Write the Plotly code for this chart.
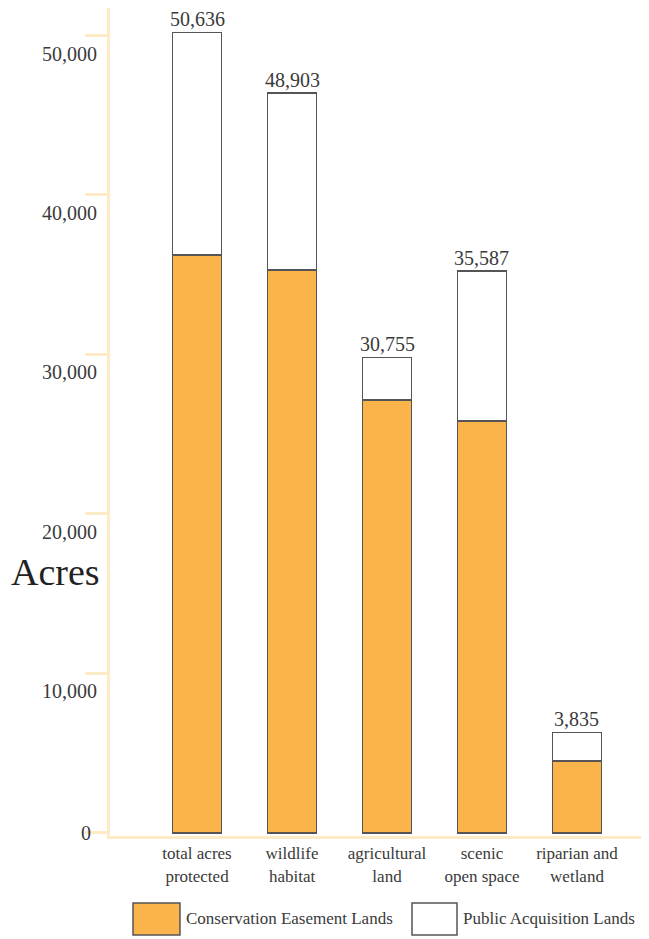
import plotly.graph_objects as go

categories = ["total acres<br>protected", "wildlife<br>habitat", "agricultural<br>land",
              "scenic<br>open space", "riparian and<br>wetland"]
easement = [36240, 35300, 27150, 25830, 4510]
public = [13950, 11080, 2670, 9410, 1800]
total_labels = ["50,636", "48,903", "30,755", "35,587", "3,835"]
tick_vals = [0, 10000, 20000, 30000, 40000, 50000]
tick_text = ["0", "10,000", "20,000", "30,000", "40,000", "50,000"]
series_names = ["Conservation Easement Lands", "Public Acquisition Lands"]

ORANGE = "#FBB34C"
OUTLINE = "#555555"
CREAM = "#FEEAC4"
TEXT = "#3a3a3a"
SERIF = "Liberation Serif, Times New Roman, serif"

fig = go.Figure()
fig.add_trace(go.Bar(x=categories, y=easement, name=series_names[0], width=0.52,
                     marker=dict(color=ORANGE, line=dict(color=OUTLINE, width=1.5))))
fig.add_trace(go.Bar(x=categories, y=public, name=series_names[1], width=0.52,
                     marker=dict(color="white", line=dict(color=OUTLINE, width=1.5))))

for c, e, p, lab in zip(categories, easement, public, total_labels):
    fig.add_annotation(x=c, y=e + p, text=lab, showarrow=False, yanchor="bottom",
                       yshift=0, font=dict(family=SERIF, size=20, color=TEXT))

# y tick labels (sit just below their tick marks, as in the original)
for v, t in zip(tick_vals, tick_text):
    fig.add_annotation(xref="paper", yref="y", x=-0.02 if v else -0.032, y=v, text=t,
                       showarrow=False, xanchor="right", yanchor="middle",
                       yshift=-18 if v else 0,
                       font=dict(family=SERIF, size=20, color=TEXT))

fig.add_annotation(xref="paper", yref="paper", x=-0.101, y=0.3188, text="Acres",
                   showarrow=False, xanchor="center", yanchor="middle",
                   font=dict(family=SERIF, size=38, color="#222"))

# custom legend
legend_items = [(0.043, 0.1308, ORANGE, series_names[0]),
                (0.5645, 0.6486, "white", series_names[1])]
for x0, x1, col, name in legend_items:
    fig.add_shape(type="rect", xref="paper", yref="paper", x0=x0, x1=x1,
                  y0=-0.1196, y1=-0.0809, fillcolor=col,
                  line=dict(color=OUTLINE, width=1.5))
    fig.add_annotation(xref="paper", yref="paper", x=x1 + 0.008, y=-0.1002, text=name,
                       showarrow=False, xanchor="left", yanchor="middle",
                       font=dict(family=SERIF, size=17, color=TEXT))

fig.update_layout(
    width=641, height=931, barmode="stack", showlegend=False,
    plot_bgcolor="white", paper_bgcolor="white",
    margin=dict(l=102, r=4, t=0, b=103, autoexpand=False),
    xaxis=dict(range=[-0.916, 4.716], showline=True, linecolor=CREAM, linewidth=3,
               ticks="", showgrid=False, zeroline=False, automargin=False,
               tickfont=dict(family=SERIF, size=17, color=TEXT)),
    yaxis=dict(range=[-190, 51724], showline=True, linecolor=CREAM, linewidth=3,
               tickvals=tick_vals, ticks="outside", ticklen=22, showticklabels=False,
               tickwidth=3, tickcolor=CREAM, showgrid=False, zeroline=False,
               automargin=False),
)

fig.write_html("out.html")
